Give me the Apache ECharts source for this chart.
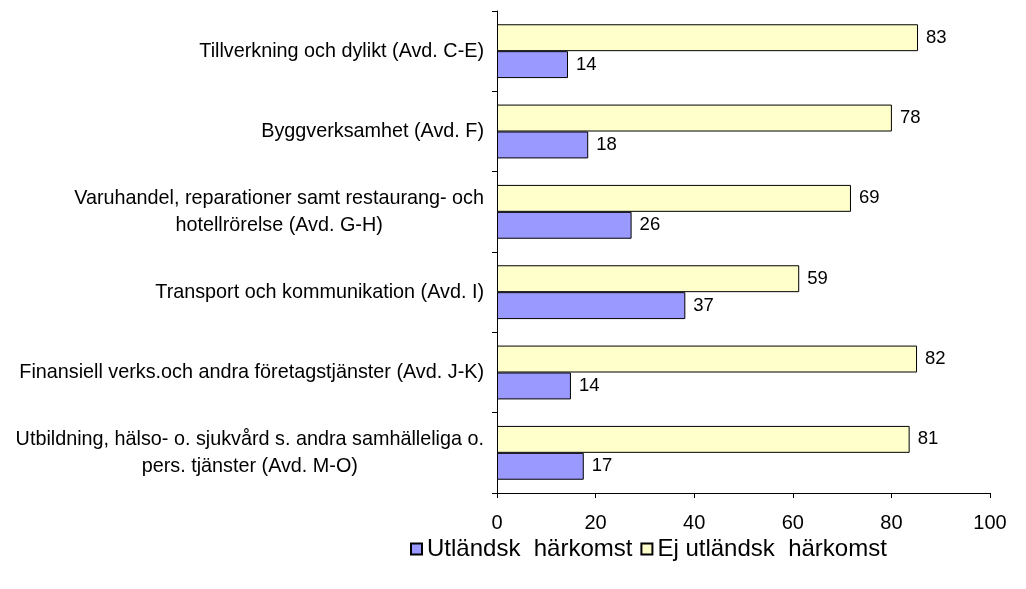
<!DOCTYPE html>
<html>
<head>
<meta charset="utf-8">
<script src="https://cdn.jsdelivr.net/npm/echarts@6/dist/echarts.min.js"></script>
<style>
  html, body { margin: 0; padding: 0; background: #ffffff; }
  #chart { width: 1026px; height: 589px; }
</style>
</head>
<body>
<div id="chart"></div>
<script>
// Categories (top to bottom)
const categories = [
  'Tillverkning och dylikt (Avd. C-E)',
  'Byggverksamhet (Avd. F)',
  'Varuhandel, reparationer samt restaurang- och\nhotellrörelse (Avd. G-H)',
  'Transport och kommunikation (Avd. I)',
  'Finansiell verks.och andra företagstjänster (Avd. J-K)',
  'Utbildning, hälso- o. sjukvård s. andra samhälleliga o.\npers. tjänster (Avd. M-O)'
];
const seriesNames = ['Utländsk  härkomst', 'Ej utländsk  härkomst'];
// Bar lengths as drawn in the reference
const utlandskBars = [14.4, 18.5, 27.3, 38.2, 15.0, 17.6];
const ejUtlandskBars = [85.4, 80.1, 71.8, 61.3, 85.2, 83.7];
// Value labels as printed in the reference
const utlandskLabels = [14, 18, 26, 37, 14, 17];
const ejUtlandskLabels = [83, 78, 69, 59, 82, 81];
// Value axis ticks
const xTicks = [0, 20, 40, 60, 80, 100];

const FONT = '"Liberation Sans", Arial, sans-serif';
const chart = echarts.init(document.getElementById('chart'), null, { renderer: 'canvas' });

const labelStyle = (labels) => ({
  show: true,
  position: 'right',
  distance: 8,
  color: '#000',
  fontFamily: FONT,
  fontSize: 18.5,
  formatter: (p) => String(labels[p.dataIndex])
});

chart.setOption({
  backgroundColor: '#ffffff',
  animation: false,
  textStyle: { fontFamily: FONT, color: '#000' },
  grid: { left: 497, right: 36, top: 11, bottom: 96, containLabel: false },
  legend: {
    data: seriesNames,
    left: 405,
    top: 532,
    itemWidth: 11,
    itemHeight: 11,
    itemGap: 8,
    icon: 'rect',
    textStyle: { fontFamily: FONT, fontSize: 24, color: '#000' }
  },
  xAxis: {
    type: 'value',
    min: xTicks[0],
    max: xTicks[xTicks.length - 1],
    interval: xTicks[1] - xTicks[0],
    axisLine: { show: true, lineStyle: { color: '#000', width: 1 } },
    axisTick: { show: true, length: 5, lineStyle: { color: '#000' } },
    splitLine: { show: false },
    axisLabel: { color: '#000', fontFamily: FONT, fontSize: 20, margin: 20 }
  },
  yAxis: {
    type: 'category',
    inverse: true,
    data: categories,
    axisLine: { show: true, onZero: false, lineStyle: { color: '#000', width: 1 } },
    axisTick: { show: true, length: 5, lineStyle: { color: '#000' } },
    splitLine: { show: false },
    axisLabel: {
      margin: 13,
      align: 'right',
      formatter: (v) => v.split('\n').map(s => '{c|' + s + '}').join('\n'),
      rich: {
        c: { align: 'center', fontFamily: FONT, fontSize: 19.8, color: '#000', lineHeight: 27 }
      }
    }
  },
  series: [
    {
      name: seriesNames[1],
      type: 'bar',
      data: ejUtlandskBars,
      barGap: '0%',
      barCategoryGap: '33%',
      itemStyle: { color: '#FFFFCC', borderColor: '#000', borderWidth: 1 },
      label: labelStyle(ejUtlandskLabels)
    },
    {
      name: seriesNames[0],
      type: 'bar',
      data: utlandskBars,
      barGap: '0%',
      barCategoryGap: '33%',
      itemStyle: { color: '#9999FF', borderColor: '#000', borderWidth: 1 },
      label: labelStyle(utlandskLabels)
    }
  ]
});
</script>
</body>
</html>
